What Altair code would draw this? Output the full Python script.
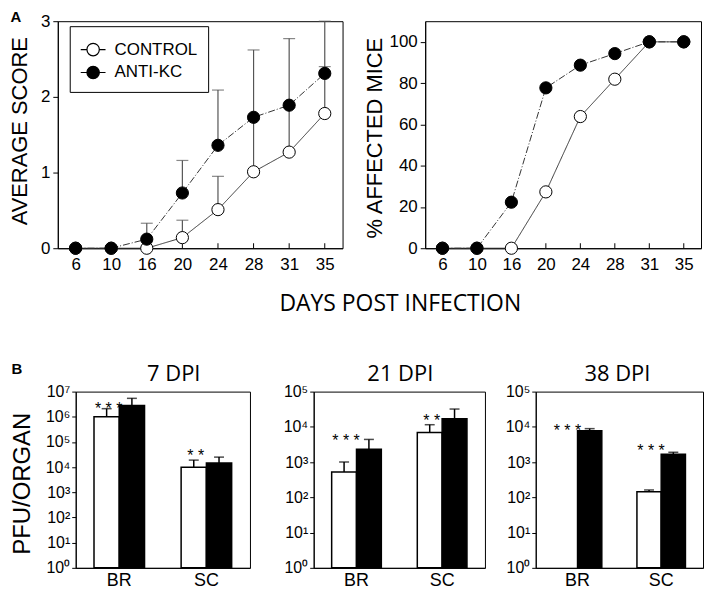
import altair as alt
import pandas as pd

FONT = "Liberation Sans"
TFONT = "Open Sans"

# ---------------- data ----------------
days = ["6", "10", "16", "20", "24", "28", "31", "35"]
groups = ["CONTROL", "ANTI-KC"]

score_control = [0, 0, 0, 0.14, 0.51, 1.01, 1.27, 1.78]
score_anti = [0, 0, 0.12, 0.73, 1.36, 1.73, 1.89, 2.31]
score_err_control = [None, None, None, 0.37, 0.95, 1.70, 1.86, 2.40]
score_err_anti = [None, None, 0.33, 1.16, 2.09, 2.62, 2.77, 3.00]

affected_control = [0, 0, 0, 27.3, 63.8, 81.9, 100, 100]
affected_anti = [0, 0, 22.3, 77.7, 88.7, 94.3, 100, 100]

organs = ["BR", "SC"]
dpi_titles = ["7 DPI", "21 DPI", "38 DPI"]
dpi_max_exp = [7, 5, 5]
pfu_control = [[1.0e6, 1.0e4], [525, 6900], [None, 145]]
pfu_anti = [[2.8e6, 1.45e4], [2300, 17000], [7800, 1660]]
pfu_err_control = [[2.1e6, 1.9e4], [1000, 11500], [None, 162]]
pfu_err_anti = [[5.4e6, 2.5e4], [4400, 32000], [8900, 1900]]
stars_text = [["* * *", "* *"], ["* * *", "* *"], ["* * *", "* * *"]]
stars_at = [[4.4e6, 5.5e4], [6600, 24000], [12600, 3460]]

x_title = ["DAYS POST INFECTION"]
panel_letters = ["A", "B"]

# ---------------- tables ----------------
rows = []
for g, sc, er, pc in ((groups[0], score_control, score_err_control, affected_control),
                      (groups[1], score_anti, score_err_anti, affected_anti)):
    for i, d in enumerate(days):
        rows.append(dict(day=d, group=g, score=sc[i], err=er[i], pct=pc[i],
                         order=groups.index(g)))
df_a = pd.DataFrame(rows)
df_err = df_a.dropna(subset=["err"])
df_days = pd.DataFrame({"day": days})

TOP_W_L, TOP_W_R, TOP_H = 286, 277, 228
BOT_W = [175, 172, 168]
BOT_H = 177
ROW_GAP = 144
TITLE_DX = [11, 1, -2]

fill_scale = alt.Scale(domain=groups, range=["white", "black"])
dashes = {groups[0]: [1, 0], groups[1]: [7, 2, 1, 2]}

LEG_PATH = ("M-1,0L-0.5,0M0.5,0L1,0M0.5,0A0.5,0.5,0,1,1,-0.5,0"
            "A0.5,0.5,0,1,1,0.5,0Z")


def line_panel(ycol, ymax, yvals, ytitle, title_x, title_y, width, with_err, legend, extras):
    xax = alt.Axis(title=None, labelAngle=0, ticks=False, labelFont=FONT,
                   labelFontSize=17, labelPadding=8, labelColor="black",
                   domainColor="black")
    yax = alt.Axis(title=ytitle, values=yvals, tickSize=5, labelFont=FONT,
                   labelFontSize=17, labelPadding=3, labelColor="black",
                   domainColor="black", tickColor="black", titleFont=FONT,
                   titleFontSize=22, titleFontWeight="normal", titleColor="black",
                   titleX=title_x, titleY=title_y)
    X = lambda f: alt.X(f"{f}:O", sort=days,
                        scale=alt.Scale(type="point", padding=0.5), axis=xax)
    yscale = alt.Scale(domain=[0, ymax], nice=False)
    Y = lambda f: alt.Y(f"{f}:Q", scale=yscale, axis=yax)

    layers = []
    layers.append(alt.Chart(df_days).mark_rule(color="black", strokeWidth=1).encode(
        x=X("day"), y=alt.value(TOP_H), y2=alt.value(TOP_H - 5)))
    if with_err:
        layers.append(alt.Chart(df_err).mark_rule(color="#555", strokeWidth=1.2).encode(
            x=X("day"), y=Y(ycol), y2="err:Q"))
        layers.append(alt.Chart(df_err).mark_tick(color="#555", thickness=1.2, size=12).encode(
            x=X("day"), y=Y("err")))
    for g in groups:
        layers.append(alt.Chart(df_a).transform_filter(alt.datum.group == g).mark_line(
            color="#333", strokeWidth=1, strokeDash=dashes[g]).encode(
            x=X("day"), y=Y(ycol)))
    if legend:
        leg = alt.Legend(title=None, orient="none", legendX=12, legendY=5,
                         strokeColor="black", fillColor="white", padding=10,
                         symbolType=LEG_PATH, symbolSize=620,
                         symbolStrokeColor="black", symbolStrokeWidth=1.2,
                         symbolOpacity=1, labelFont=FONT, labelFontSize=17,
                         labelColor="black", rowPadding=0, labelOffset=8)
    else:
        leg = None
    layers.append(alt.Chart(df_a).mark_circle(size=150, stroke="black", strokeWidth=1, opacity=1).encode(
        x=X("day"), y=Y(ycol),
        fill=alt.Fill("group:N", scale=fill_scale, legend=leg),
        order=alt.Order("order:Q")))
    layers += extras
    return alt.layer(*layers).properties(width=width, height=TOP_H)


txt_days = alt.Chart(pd.DataFrame({"t": x_title})).mark_text(
    font=TFONT, fontSize=23, align="center", baseline="middle", color="black").encode(
    x=alt.value(344), y=alt.value(284), text="t:N")
txt_a = alt.Chart(pd.DataFrame({"t": [panel_letters[0]]})).mark_text(
    font=FONT, fontSize=15, fontWeight="bold", align="center", baseline="top", color="black").encode(
    x=alt.value(-42), y=alt.value(-11), text="t:N")
# panel letter B sits beside the 7 DPI panel (row offset = TOP_H + ROW_GAP)
txt_b = alt.Chart(pd.DataFrame({"t": [panel_letters[1]]})).mark_text(
    font=FONT, fontSize=15, fontWeight="bold", align="center", baseline="middle", color="black").encode(
    x=alt.value(-41), y=alt.value(TOP_H + ROW_GAP - 23), text="t:N")

left = line_panel("score", 3, [0, 1, 2, 3], "AVERAGE SCORE", -26, 110, TOP_W_L, True, True,
                  [txt_days, txt_a, txt_b])
right = line_panel("pct", 110, [0, 20, 40, 60, 80, 100], "% AFFECTED MICE", -39, 117, TOP_W_R,
                   False, False, [])

SUP = "['\u2070','\u00b9','\u00b2','\u00b3','\u2074','\u2075','\u2076','\u2077']"


def bar_panel(k):
    rows = []
    for i, o in enumerate(organs):
        for g, v, e in ((groups[0], pfu_control[k][i], pfu_err_control[k][i]),
                        (groups[1], pfu_anti[k][i], pfu_err_anti[k][i])):
            if v is None:
                continue
            rows.append(dict(organ=o, group=g, value=v, err=e))
    df = pd.DataFrame(rows)
    df_s = pd.DataFrame({"organ": organs, "group": [groups[0]] * 2,
                         "t": stars_text[k], "yv": stars_at[k]})
    top = dpi_max_exp[k]
    xax = alt.Axis(title=None, labelAngle=0, ticks=False, labelFont=FONT,
                   labelFontSize=18, labelPadding=4, labelColor="black",
                   domainColor="black")
    yax = alt.Axis(title="PFU/ORGAN" if k == 0 else None,
                   values=[10 ** e for e in range(top + 1)],
                   labelExpr="'10' + " + SUP + "[round(log(datum.value)/LN10)]",
                   tickSize=4, labelFont=FONT, labelFontSize=16, labelPadding=2,
                   labelColor="black", domainColor="black", tickColor="black",
                   titleFont=FONT, titleFontSize=24, titleFontWeight="normal",
                   titleColor="black", titleX=-41, titleY=92)
    X = alt.X("organ:N", sort=organs,
              scale=alt.Scale(domain=organs, paddingInner=0.42, paddingOuter=0.21), axis=xax)
    XO = alt.XOffset("group:N", sort=groups,
                     scale=alt.Scale(domain=groups, paddingInner=0, paddingOuter=0))
    ysc = alt.Scale(type="log", domain=[1, 10 ** top], nice=False)
    Y = lambda f: alt.Y(f"{f}:Q", scale=ysc, axis=yax)
    bars = alt.Chart(df).mark_bar(stroke="black", strokeWidth=1.5).encode(
        x=X, xOffset=XO, y=Y("value"), y2=alt.datum(1),
        fill=alt.Fill("group:N", scale=fill_scale, legend=None))
    erule = alt.Chart(df).mark_rule(color="black", strokeWidth=1.5).encode(
        x=X, xOffset=XO, y=Y("value"), y2="err:Q")
    ecap = alt.Chart(df).mark_tick(color="black", thickness=1.5, size=10).encode(
        x=X, xOffset=XO, y=Y("err"))
    stars = alt.Chart(df_s).mark_text(font=FONT, fontSize=16, dy=8, dx=2, color="black").encode(
        x=X, xOffset=XO, y=Y("yv"), text="t:N")
    ttl = alt.Chart(pd.DataFrame({"t": [dpi_titles[k]]})).mark_text(
        font=TFONT, fontSize=22, align="center", baseline="middle", color="black").encode(
        x=alt.value(BOT_W[k] / 2 + TITLE_DX[k]), y=alt.value(-18), text="t:N")
    return alt.layer(erule, ecap, bars, stars, ttl).properties(width=BOT_W[k], height=BOT_H)


p1 = bar_panel(0)
p2 = bar_panel(1)
p3 = bar_panel(2)

spacer = alt.Chart(pd.DataFrame({"s": [0]})).mark_point(opacity=0).encode(
    x=alt.value(0), y=alt.value(0)).properties(
    width=1, height=BOT_H, view=alt.ViewBackground(stroke="transparent"))


def res(c):
    return c.resolve_scale(fill="independent", xOffset="independent").resolve_legend(
        fill="independent")


top_row = res(alt.hconcat(left, right, spacing=83, bounds="flush"))
inner23 = res(alt.hconcat(p2, p3, spacing=51, bounds="flush"))
inner123 = res(alt.hconcat(p1, inner23, spacing=64, bounds="flush"))
bottom_row = res(alt.hconcat(spacer, inner123, spacing=17, bounds="flush"))

# nested concat groups count as zero height in a flush layout, so the spacing
# here is the full distance between the two rows' plot tops
chart = res(alt.vconcat(top_row, bottom_row, spacing=TOP_H + ROW_GAP, bounds="flush")).configure(
    background="white", padding=0
).configure_view(stroke="black", strokeWidth=1).configure_axis(grid=False)

chart.save("out.html", embed_options={"renderer": "svg", "actions": False})
